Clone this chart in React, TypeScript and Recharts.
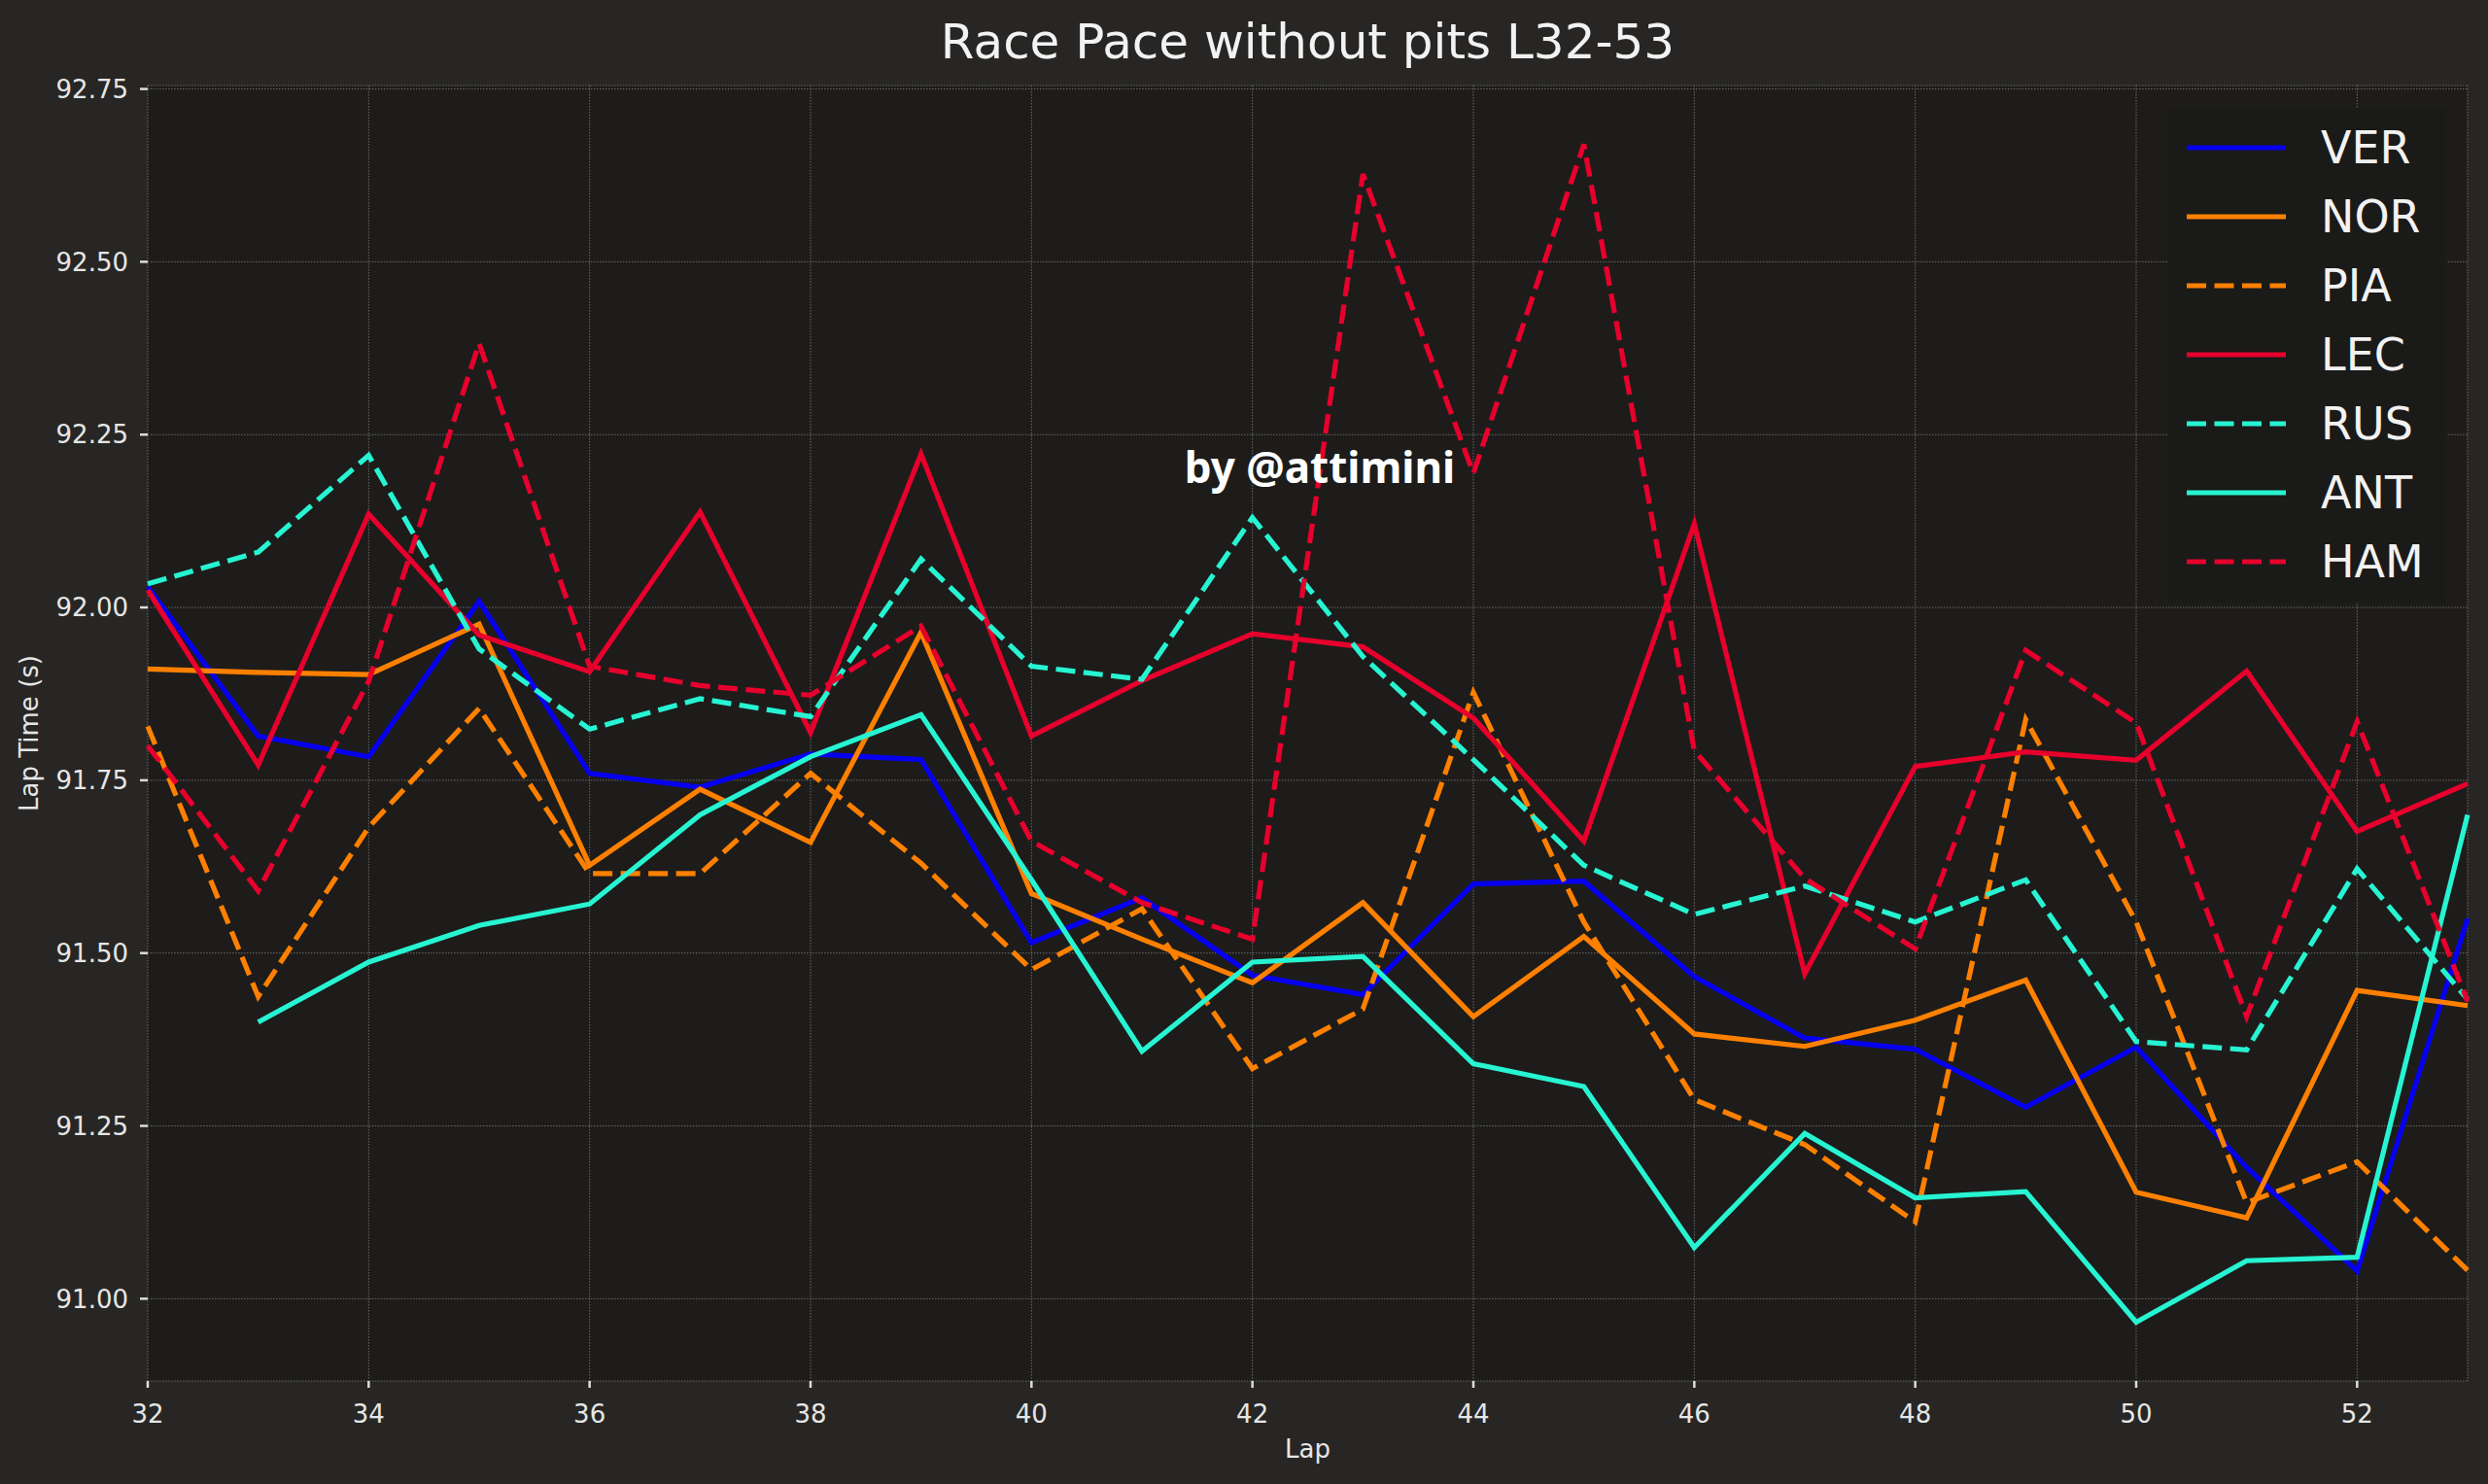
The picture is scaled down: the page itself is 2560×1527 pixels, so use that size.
import React from 'react';
import { LineChart, Line, XAxis, YAxis, CartesianGrid, Legend } from 'recharts';

const laps = [32, 33, 34, 35, 36, 37, 38, 39, 40, 41, 42, 43, 44, 45, 46, 47, 48, 49, 50, 51, 52, 53];

const ver = [92.03, 91.814, 91.784, 92.009, 91.76, 91.74, 91.788, 91.78, 91.515, 91.58, 91.468, 91.44, 91.6, 91.604, 91.466, 91.377, 91.361, 91.277, 91.364, 91.19, 91.04, 91.55];
const nor = [91.911, 91.906, 91.903, 91.976, 91.627, 91.737, 91.66, 91.964, 91.586, 91.52, 91.457, 91.573, 91.408, 91.524, 91.383, 91.365, 91.403, 91.461, 91.154, 91.117, 91.446, 91.424];
const pia = [91.828, 91.437, 91.682, 91.854, 91.615, 91.615, 91.76, 91.63, 91.476, 91.564, 91.333, 91.419, 91.877, 91.545, 91.288, 91.223, 91.111, 91.838, 91.545, 91.139, 91.198, 91.041];
const lec = [92.025, 91.772, 92.135, 91.96, 91.907, 92.138, 91.819, 92.222, 91.814, 91.894, 91.962, 91.943, 91.84, 91.662, 92.121, 91.47, 91.77, 91.791, 91.779, 91.908, 91.676, 91.745];
const rus = [92.034, 92.08, 92.22, 91.94, 91.824, 91.868, 91.842, 92.07, 91.915, 91.896, 92.13, 91.929, 91.78, 91.627, 91.556, 91.597, 91.545, 91.606, 91.372, 91.36, 91.622, 91.433];
const ant = [null, 91.4, 91.487, 91.54, 91.571, 91.7, 91.784, 91.845, 91.606, 91.358, 91.487, 91.495, 91.34, 91.307, 91.074, 91.239, 91.146, 91.155, 90.966, 91.055, 91.06, 91.7];
const ham = [91.8, 91.59, 91.893, 92.382, 91.915, 91.887, 91.873, 91.973, 91.662, 91.573, 91.52, 92.627, 92.194, 92.67, 91.793, 91.608, 91.506, 91.938, 91.833, 91.408, 91.835, 91.43];

const xTicks = [32, 34, 36, 38, 40, 42, 44, 46, 48, 50, 52];
const yTicks = [91.0, 91.25, 91.5, 91.75, 92.0, 92.25, 92.5, 92.75];

const drivers = [
  { key: 'VER', values: ver, color: '#0600ef', dashed: false },
  { key: 'NOR', values: nor, color: '#ff8000', dashed: false },
  { key: 'PIA', values: pia, color: '#ff8000', dashed: true },
  { key: 'LEC', values: lec, color: '#e8002d', dashed: false },
  { key: 'RUS', values: rus, color: '#27f4d2', dashed: true },
  { key: 'ANT', values: ant, color: '#27f4d2', dashed: false },
  { key: 'HAM', values: ham, color: '#e8002d', dashed: true },
];

const rows = laps.map((lap, i) => {
  const row: Record<string, number | null> = { lap };
  drivers.forEach((d) => {
    row[d.key] = d.values[i];
  });
  return row;
});

const FONT = '"DejaVu Sans", sans-serif';
const LW = 5.2;
const DASH = '20 8.5';

function DriverLegend() {
  return (
    <div
      style={{
        background: '#1a1a19',
        width: 286,
        height: 508,
        boxSizing: 'border-box',
        paddingTop: 4,
      }}
    >
      {drivers.map((d) => (
        <div key={d.key} style={{ display: 'flex', alignItems: 'center', height: 71 }}>
          <svg width={102} height={10} style={{ marginLeft: 19 }}>
            <line
              x1={0}
              y1={5}
              x2={102}
              y2={5}
              stroke={d.color}
              strokeWidth={LW}
              strokeDasharray={d.dashed ? DASH : undefined}
            />
          </svg>
          <span style={{ marginLeft: 36, color: '#f2f2f2', fontSize: 46, fontFamily: FONT, lineHeight: '46px' }}>
            {d.key}
          </span>
        </div>
      ))}
    </div>
  );
}

function YLabel(props: any) {
  const { viewBox } = props;
  const cy = viewBox.y + viewBox.height / 2;
  return (
    <text
      x={30}
      y={cy}
      transform={`rotate(-90, 30, ${cy})`}
      textAnchor="middle"
      dominantBaseline="central"
      fill="#e6e6e6"
      fontSize={26}
      fontFamily={FONT}
    >
      Lap Time (s)
    </text>
  );
}

function XLabel(props: any) {
  const { viewBox } = props;
  const cx = viewBox.x + viewBox.width / 2;
  return (
    <text x={cx} y={1491} textAnchor="middle" dominantBaseline="central" fill="#e6e6e6" fontSize={26} fontFamily={FONT}>
      Lap
    </text>
  );
}

export default function App() {
  return (
    <div style={{ position: 'relative', width: 2560, height: 1527, background: '#272624', fontFamily: FONT }}>
      <style>{'body{margin:0}'}</style>
      <div
        style={{
          position: 'absolute',
          left: 152,
          width: 2387,
          top: 14,
          textAlign: 'center',
          color: '#f2f2f2',
          fontSize: 50,
          lineHeight: '58px',
        }}
      >
        Race Pace without pits L32-53
      </div>
      <LineChart width={2560} height={1527} data={rows} margin={{ top: 88, right: 21, left: 0, bottom: 0 }}>
        <CartesianGrid fill="#1d1c1a" stroke="#6a6a6a" strokeWidth={1} strokeDasharray="1.5 1.5" />
        <XAxis
          dataKey="lap"
          type="number"
          domain={[32, 53]}
          ticks={xTicks}
          height={106}
          axisLine={false}
          tickLine={{ stroke: '#dddddd', strokeWidth: 2.5 }}
          tickSize={7}
          tickMargin={18}
          tick={{ fill: '#e6e6e6', fontSize: 26, fontFamily: FONT }}
          label={<XLabel />}
        />
        <YAxis
          type="number"
          domain={[90.881, 92.755]}
          ticks={yTicks}
          width={152}
          allowDataOverflow
          axisLine={false}
          tickLine={{ stroke: '#dddddd', strokeWidth: 2.5 }}
          tickSize={8}
          tickMargin={12}
          tick={{ fill: '#e6e6e6', fontSize: 26, fontFamily: FONT }}
          tickFormatter={(v: number) => v.toFixed(2)}
          label={<YLabel />}
        />
        <Legend
          layout="vertical"
          align="center"
          verticalAlign="middle"
          content={() => <DriverLegend />}
          wrapperStyle={{ position: 'absolute', left: 2231, top: 112, width: 286, height: 508 }}
        />
        {drivers.map((d) => (
          <Line
            key={d.key}
            type="linear"
            dataKey={d.key}
            stroke={d.color}
            strokeWidth={LW}
            strokeDasharray={d.dashed ? DASH : undefined}
            dot={false}
            activeDot={false}
            isAnimationActive={false}
          />
        ))}
      </LineChart>
      <div
        style={{
          position: 'absolute',
          left: 1358 - 200,
          width: 400,
          top: 452,
          textAlign: 'center',
          color: '#ffffff',
          fontFamily: '"Noto Sans", sans-serif',
          fontWeight: 700,
          fontSize: 44,
          lineHeight: '56px',
        }}
      >
        by @attimini
      </div>
    </div>
  );
}
